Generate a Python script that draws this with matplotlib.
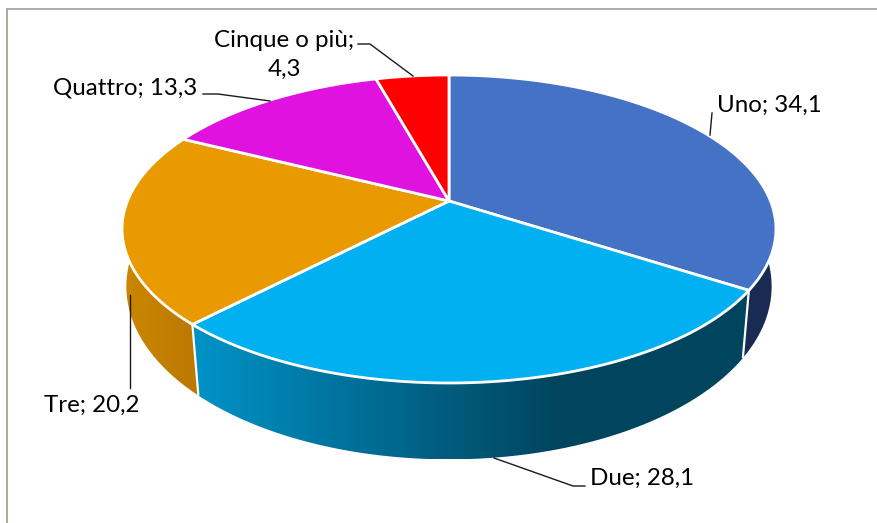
import numpy as np
import matplotlib
matplotlib.use("Agg")
import matplotlib.pyplot as plt
from matplotlib.patches import Polygon

categories = ["Uno", "Due", "Tre", "Quattro", "Cinque o più"]
values = [34.1, 28.1, 20.2, 13.3, 4.3]
top_colors = ["#4472C4", "#00B0F0", "#E99A00", "#E012E0", "#FF0000"]
# wall colour at the left and right end of the gradient, per slice
wall_left = ["#1A2B52", "#0093C8", "#CB8700", "#8A0A8A", "#A00000"]
wall_right = ["#1A2B52", "#00445E", "#BC7800", "#8A0A8A", "#A00000"]

W, H = 878, 523
CX, CY = 449, 201      # apex of the pie on the canvas
A, B, K = 321.5, 148.9, 0.1818   # projection of the tilted disc
D0, D1 = 80, 23        # wall height at the front and its fall towards the back


def top(t):
    x, y = np.sin(t), np.cos(t)
    w = 1 + K * y
    return CX + A * x / w, CY - B * y / w


def bottom(t):
    X, Y = top(t)
    c = np.cos(t)
    d = D0 - D1 * (c + 1)
    s_x = 0.99 - 0.0185 * np.abs(c)
    return CX + s_x * (X - CX), CY + 0.98 * (Y - CY) + d


def hex2rgb(c):
    return np.array(matplotlib.colors.to_rgb(c))


fig = plt.figure(figsize=(W / 100, H / 100), dpi=100)
ax = fig.add_axes([0, 0, 1, 1])
ax.axis("off")

# chart frame
ax.plot([7, 7], [H, 9], color="#A3A398", lw=1.3, zorder=1)
ax.plot([7, W], [9, 9], color="#A6A6A6", lw=1.3, zorder=1)

edges = np.concatenate([[0], np.cumsum(values)]) / sum(values) * 2 * np.pi

# walls, only for the part of the rim that faces the viewer
for i in range(len(values)):
    t0, t1 = edges[i], edges[i + 1]
    lo, hi = max(t0, np.pi / 2 - 0.12), min(t1, 3 * np.pi / 2 + 0.12)
    if hi <= lo:
        continue
    ts = np.linspace(lo, hi, 300)
    xt, yt = top(ts)
    xb, yb = bottom(ts)
    poly = Polygon(np.column_stack([np.r_[xt, xb[::-1]], np.r_[yt, yb[::-1]]]),
                   closed=True, fc="none", ec="none", transform=ax.transData)
    ax.add_patch(poly)
    x0, x1 = min(xt.min(), xb.min()), max(xt.max(), xb.max())
    y0, y1 = min(yt.min(), yb.min()), max(yt.max(), yb.max())
    columns = np.linspace(x0, x1, 400)
    f = np.clip((columns - x0) / max(min(560, x1) - x0, 1), 0, 1)[None, :, None]
    img = (1 - f) * hex2rgb(wall_left[i]) + f * hex2rgb(wall_right[i])
    im = ax.imshow(img, extent=(x0, x1, y1, y0), origin="upper", aspect="auto",
                   interpolation="bilinear", zorder=2)
    im.set_clip_path(poly)
    # white seam at the slice boundary
    if np.pi / 2 < t1 < 3 * np.pi / 2:
        xa, ya = top(t1)
        xe, ye = bottom(t1)
        ax.plot([xa, xe], [ya, ye], color="white", lw=1.6, zorder=3, solid_capstyle="butt")

ax.set_xlim(0, W)
ax.set_ylim(H, 0)

# top faces
for i in range(len(values)):
    ts = np.linspace(edges[i], edges[i + 1], 200)
    xs, ys = top(ts)
    pts = np.column_stack([np.r_[CX, xs], np.r_[CY, ys]])
    ax.add_patch(Polygon(pts, closed=True, fc=top_colors[i], ec="white", lw=2.0,
                         joinstyle="round", zorder=4))

# labels
font = dict(family="Lato", fontsize=17.4, color="black", zorder=6)
labels = [f"{c}; {str(v).replace('.', ',')}" for c, v in zip(categories, values)]
ax.text(717, 105, labels[0], ha="left", va="center", **font)
ax.text(590, 478, labels[1], ha="left", va="center", **font)
ax.text(44, 405, labels[2], ha="left", va="center", **font)
ax.text(53, 88, labels[3], ha="left", va="center", **font)
ax.text(284, 55, labels[4].replace("; ", ";\n"), ha="center", va="center", linespacing=1.5, **font)

# leader lines
leaders = [
    ([710, 712], [135, 113]),
    ([494, 573, 585], [458, 486, 486]),
    ([130, 130], [295, 388]),
    ([203, 218, 270], [94, 94, 101]),
    ([358, 370, 413], [44, 44, 76]),
]
for lx, ly in leaders:
    ax.plot(lx, ly, color="#1A1A1A", lw=1.0, zorder=5)

fig.savefig("out.png", dpi=100, facecolor="white")
